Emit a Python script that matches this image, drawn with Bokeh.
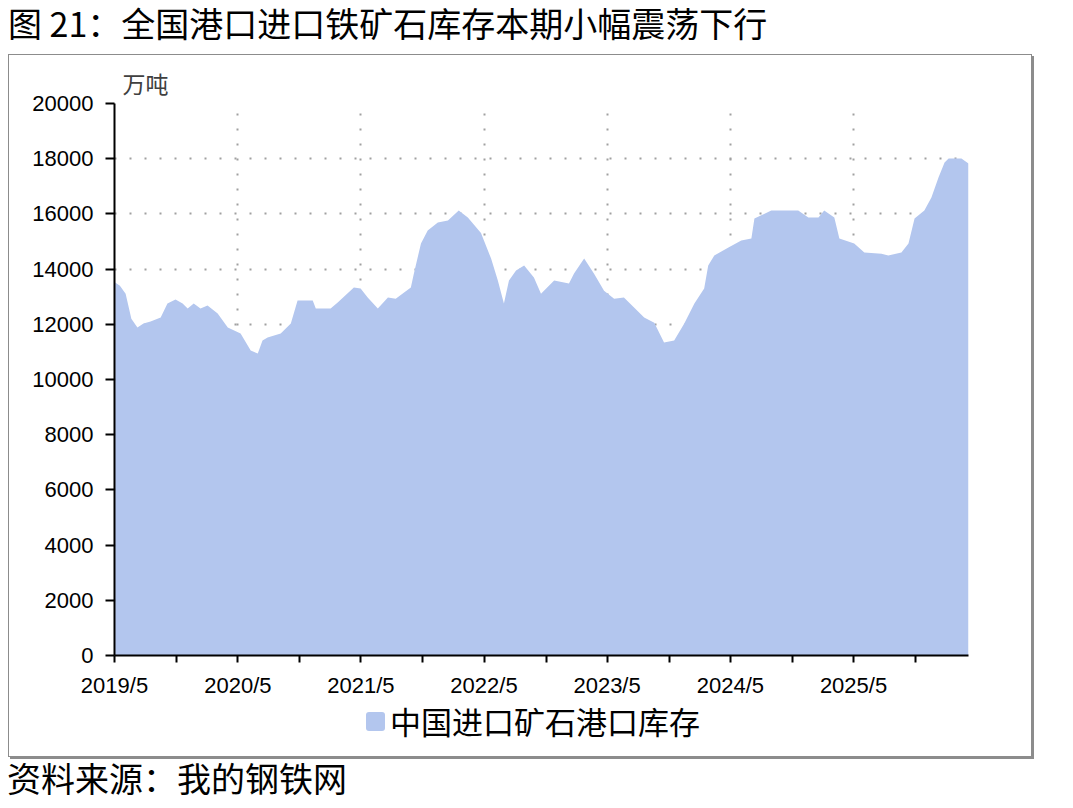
import pandas as pd
from bokeh.plotting import figure
from bokeh.models import (Range1d, FixedTicker, CustomJSTickFormatter, Div, ColumnDataSource)
from bokeh.layouts import column
from bokeh.embed import file_html
from bokeh.resources import INLINE

# ---- data ----
dates = ["2019-05-03","2019-05-17","2019-06-03","2019-06-20","2019-07-08","2019-07-26","2019-08-16",
         "2019-09-15","2019-10-05","2019-10-29","2019-11-19","2019-12-04","2019-12-22",
         "2020-01-11","2020-02-01","2020-03-02","2020-04-01","2020-05-09","2020-06-08","2020-06-29",
         "2020-07-13","2020-07-28","2020-09-05","2020-10-05","2020-10-25","2020-12-09","2020-12-18",
         "2021-01-31","2021-02-21","2021-04-10","2021-04-30","2021-05-21","2021-06-20","2021-07-20",
         "2021-08-12","2021-09-26","2021-10-05","2021-10-26","2021-11-15","2021-12-15",
         "2022-01-14","2022-02-15","2022-03-14","2022-04-22","2022-05-22","2022-06-11","2022-06-29",
         "2022-07-14","2022-08-04","2022-08-28","2022-09-26","2022-10-17","2022-11-25",
         "2023-01-08","2023-01-23","2023-02-22","2023-03-23","2023-04-22","2023-05-22","2023-06-20",
         "2023-07-20","2023-08-19","2023-09-18","2023-10-17","2023-11-16","2023-12-16",
         "2024-01-15","2024-02-13","2024-02-25","2024-03-14","2024-04-25","2024-06-02","2024-07-02",
         "2024-07-11","2024-08-30","2024-11-18","2024-12-18",
         "2025-01-17","2025-02-03","2025-03-05","2025-03-20","2025-05-03","2025-06-02","2025-07-23",
         "2025-08-12","2025-09-20","2025-10-11","2025-10-29","2025-11-27","2025-12-18",
         "2026-01-08","2026-01-26","2026-02-07","2026-03-17","2026-04-07"]
inventory = [13510, 13400, 13110, 12200, 11880, 12030, 12100, 12250, 12750, 12900, 12750, 12570, 12750,
             12570, 12680, 12390, 11880, 11670, 11050, 10940, 11410, 11520, 11670, 12030, 12860, 12860, 12570,
             12570, 12790, 13330, 13300, 12970, 12570, 12970, 12930, 13330, 13840, 14930, 15400, 15690,
             15760, 16120, 15870, 15310, 14380, 13590, 12750, 13590, 13950, 14130, 13700, 13110, 13590,
             13480, 13840, 14380, 13840, 13220, 12930, 12970, 12610, 12250, 12060, 11340, 11410, 12030,
             12750, 13300, 14130, 14490, 14780, 15040, 15110, 15830, 16120, 16120, 15870,
             15870, 16120, 15870, 15110, 14930, 14600, 14560, 14490, 14600, 14930, 15830, 16120, 16590,
             17320, 17860, 18010, 18010, 17830]
x_labels = ["2019/5", "2020/5", "2021/5", "2022/5", "2023/5", "2024/5", "2025/5"]
y_ticks = [0, 2000, 4000, 6000, 8000, 10000, 12000, 14000, 16000, 18000, 20000]
series_name = "中国进口矿石港口库存"
unit = "万吨"
title_text = "图 21：全国港口进口铁矿石库存本期小幅震荡下行"
source_text = "资料来源：我的钢铁网"
area_color = "#B3C6EE"

# ---- build ----
dt = pd.to_datetime(dates)
src = ColumnDataSource(dict(x=dt, y=inventory, y0=[0] * len(inventory)))

def ms(ts):
    return int(pd.Timestamp(ts).value // 10**6)

major_ticks = []
minor_ticks = []
for lab in x_labels:
    yr = int(lab.split("/")[0])
    major_ticks.append(ms(f"{yr}-05-01"))
    minor_ticks.append(ms(f"{yr}-11-01"))
all_ticks = sorted(major_ticks + minor_ticks)

CJK = "Noto Sans CJK SC"
LAT = "Liberation Sans"

p = figure(width=1022, height=645, output_backend="svg", toolbar_location=None,
           x_axis_type="datetime",
           x_range=Range1d(start=pd.Timestamp("2019-05-01"), end=dt[-1]),
           y_range=Range1d(start=0, end=20000),
           min_border_left=105, min_border_right=63, min_border_top=48, min_border_bottom=45,
           title=unit, title_location="above")
p.outline_line_color = None
p.background_fill_color = "white"
p.border_fill_color = "white"
p.title.text_font = CJK
p.title.text_font_size = "23px"
p.title.text_font_style = "normal"
p.title.text_color = "#404040"
p.title.align = "left"
p.title.offset = 8
p.title.standoff = 7

area = p.varea(x="x", y1="y0", y2="y", source=src, fill_color=area_color, fill_alpha=1.0)

# axes
p.xaxis.ticker = FixedTicker(ticks=all_ticks)
p.xaxis.formatter = CustomJSTickFormatter(args=dict(majors=major_ticks, labs=x_labels), code="""
    const i = majors.indexOf(tick);
    return i >= 0 ? labs[i] : "";
""")
p.yaxis.ticker = FixedTicker(ticks=y_ticks)
for ax in (p.xaxis[0], p.yaxis[0]):
    ax.axis_line_color = "black"
    ax.axis_line_width = 2
    ax.major_tick_line_color = "black"
    ax.major_tick_line_width = 2
    ax.major_tick_in = 0
    ax.minor_tick_line_color = None
    ax.major_label_text_font = LAT
    ax.major_label_text_font_size = "22px"
    ax.major_label_text_color = "black"
p.xaxis.major_tick_out = 7
p.xaxis.major_label_standoff = 10
p.yaxis.major_tick_out = 9
p.yaxis.major_label_standoff = 12

# grids
p.xgrid.ticker = FixedTicker(ticks=major_ticks[1:])
p.ygrid.ticker = FixedTicker(ticks=y_ticks[1:])
for g in (p.xgrid[0], p.ygrid[0]):
    g.grid_line_color = "#a0a0a0"
    g.grid_line_width = 2
    g.grid_line_dash = "2 13"
    g.level = "underlay"

# legend (HTML, inside the chart box)
legend_html = (
    f'<div style="display:flex;align-items:center;height:42px;padding-left:357px;">'
    f'<span style="display:inline-block;width:19px;height:19px;border-radius:3px;'
    f'background:{area_color};"></span>'
    f'<span style="margin-left:5px;font-family:\'{CJK}\';font-size:31px;color:black;'
    f'white-space:nowrap;">{series_name}</span></div>'
)
legend_div = Div(text=legend_html, width=1022, height=56, margin=(0, 0, 0, 0),
                 styles={"background": "white"})

box = column(p, legend_div, margin=(0, 0, 0, 8),
             styles={"border": "1px solid #8c8c8c", "box-shadow": "2px 2px 0 #8c8c8c",
                     "background": "white"})

title_div = Div(text=title_text, width=1040, height=49, margin=(5, 0, 0, 8),
                styles={"font-family": CJK, "font-size": "34px", "color": "black",
                        "line-height": "36px", "white-space": "nowrap"})
source_div = Div(text=source_text, width=600, height=40, margin=(3, 0, 0, 7),
                 styles={"font-family": CJK, "font-size": "34px", "color": "black",
                         "line-height": "36px", "white-space": "nowrap"})

layout = column(title_div, box, source_div)
open("out.html", "w").write(file_html(layout, INLINE))
